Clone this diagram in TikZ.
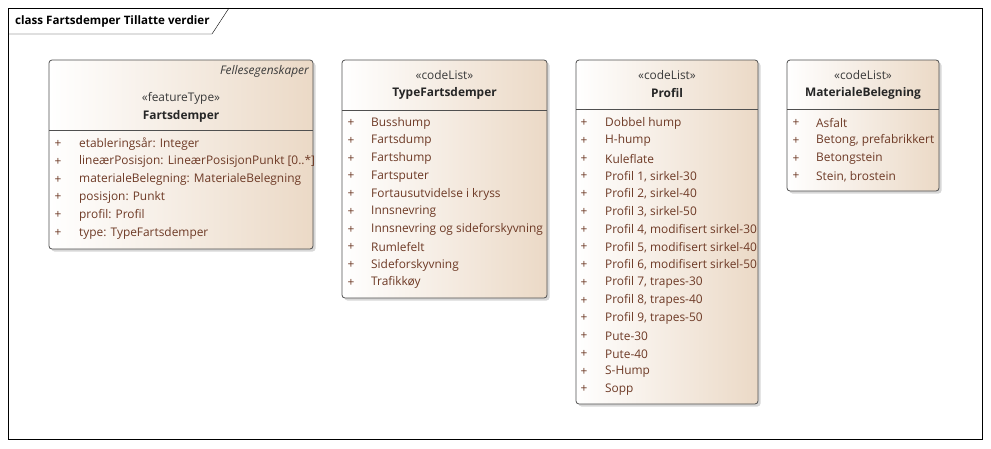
\documentclass[tikz,border=0pt]{standalone}
\usepackage{fontspec}
\setmainfont{Open Sans}
\usepackage{tikz}
\usetikzlibrary{positioning,shadows}
\definecolor{boxline}{HTML}{505050}
\definecolor{boxtan}{HTML}{EBD9C6}
\definecolor{attrcol}{HTML}{6E3A26}
\definecolor{stereocol}{HTML}{3A3A3A}
\newcommand{\umlfont}{\fontsize{11.9}{14}\selectfont}
\begin{document}
\begin{tikzpicture}[x=1pt,y=-1pt,
    classbox/.style={draw=boxline,line width=0.8pt,rounded corners=3pt,left color=white,right color=boxtan,
      drop shadow={shadow xshift=2.5pt,shadow yshift=-2.5pt,fill=black!35,opacity=.45},
      anchor=north west,inner sep=0pt,outer sep=0pt},
    sep/.style={draw=boxline,line width=0.8pt},
    stereo/.style={text=stereocol,font=\umlfont,inner sep=0pt},
    cname/.style={text=black!85,font=\umlfont\bfseries,inner sep=0pt},
    attr/.style={text=attrcol,font=\umlfont,anchor=west,inner sep=0pt},
    plus/.style={text=attrcol,font=\umlfont,inner sep=0pt}]
  \useasboundingbox (0,0) rectangle (991,448);
  % frame and title tab
  \node[draw,line width=1.1pt,minimum width=974pt,minimum height=431pt,anchor=north west,inner sep=0pt] (frame) at (8,8) {};
  \node[font=\fontsize{11.6}{13}\selectfont\bfseries,anchor=west,inner sep=0pt] (title) at (15,21) {class Fartsdemper Tillatte verdier};
  \draw (frame.north west |- 0,34) -- (212,34) -- (229,8);

  % Fartsdemper
  \node[classbox,minimum width=264pt,minimum height=189pt] (fart) at (49,60) {};
  \draw[sep] ([yshift=-70pt]fart.north west) -- ([yshift=-70pt]fart.north east);
  \node[stereo,font=\umlfont\itshape,anchor=east] (fartfelles) at (309,71) {Fellesegenskaper};
  \node[stereo] (fartst) at (181,98) {«featureType»};
  \node[cname] (fartname) at ([yshift=-18pt]fartst.center) {Fartsdemper};
  \foreach \t [count=\i] in {etableringsår: Integer,lineærPosisjon: LineærPosisjonPunkt [0..*],
      materialeBelegning: MaterialeBelegning,posisjon: Punkt,profil: Profil,type: TypeFartsdemper}{
    \node[plus] (fartp\i) at (58,126.2+\i*17.8) {+};
    \node[attr] (farta\i) at (79,126.2+\i*17.8) {\t};
  }

  % TypeFartsdemper
  \node[classbox,minimum width=205pt,minimum height=238pt] (type) at (342,60) {};
  \draw[sep] ([yshift=-50pt]type.north west) -- ([yshift=-50pt]type.north east);
  \node[stereo] (typest) at (444.5,75) {«codeList»};
  \node[cname] (typename) at ([yshift=-18pt]typest.center) {TypeFartsdemper};
  \foreach \t [count=\i] in {Busshump,Fartsdump,Fartshump,Fartsputer,Fortausutvidelse i kryss,Innsnevring,
      Innsnevring og sideforskyvning,Rumlefelt,Sideforskyvning,Trafikkøy}{
    \node[plus] (typep\i) at (351,105.3+\i*17.75) {+};
    \node[attr] (typea\i) at (371,105.3+\i*17.75) {\t};
  }

  % Profil
  \node[classbox,minimum width=182pt,minimum height=344pt] (prof) at (576,60) {};
  \draw[sep] ([yshift=-49pt]prof.north west) -- ([yshift=-49pt]prof.north east);
  \node[stereo] (profst) at (667,75) {«codeList»};
  \node[cname] (profname) at ([yshift=-18pt]profst.center) {Profil};
  \foreach \t [count=\i] in {Dobbel hump,H-hump,Kuleflate,{Profil 1, sirkel-30},{Profil 2, sirkel-40},
      {Profil 3, sirkel-50},{Profil 4, modifisert sirkel-30},{Profil 5, modifisert sirkel-40},
      {Profil 6, modifisert sirkel-50},{Profil 7, trapes-30},{Profil 8, trapes-40},{Profil 9, trapes-50},
      Pute-30,Pute-40,S-Hump,Sopp}{
    \node[plus] (profp\i) at (584,105.3+\i*17.75) {+};
    \node[attr] (profa\i) at (605,105.3+\i*17.75) {\t};
  }

  % MaterialeBelegning
  \node[classbox,minimum width=152pt,minimum height=131pt] (mat) at (787,60) {};
  \draw[sep] ([yshift=-49pt]mat.north west) -- ([yshift=-49pt]mat.north east);
  \node[stereo] (matst) at (863,75) {«codeList»};
  \node[cname] (matname) at ([yshift=-18pt]matst.center) {MaterialeBelegning};
  \foreach \t [count=\i] in {Asfalt,{Betong, prefabrikkert},Betongstein,{Stein, brostein}}{
    \node[plus] (matp\i) at (796,105.3+\i*17.75) {+};
    \node[attr] (mata\i) at (816,105.3+\i*17.75) {\t};
  }
\end{tikzpicture}
\end{document}
